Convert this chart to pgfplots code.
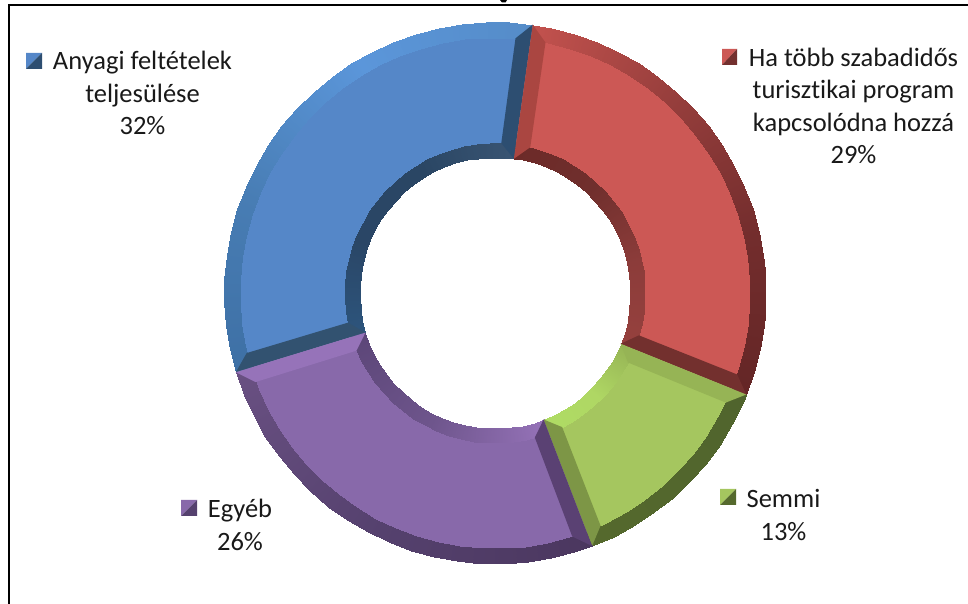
\documentclass[border=0pt]{standalone}
\usepackage{fontspec}
\setmainfont[Ligatures=NoCommon]{Carlito}
\usepackage{pgfplots}
\usepgfplotslibrary{polar}
\pgfplotsset{compat=1.18}
\definecolor{fb}{RGB}{85,135,200}
\definecolor{fr}{RGB}{204,88,85}
\definecolor{fg}{RGB}{165,198,95}
\definecolor{fp}{RGB}{136,105,170}
\definecolor{sb1}{RGB}{45,78,113}
\definecolor{sb2}{RGB}{50,82,112}
\definecolor{sr1}{RGB}{115,48,46}
\definecolor{sr2}{RGB}{170,70,65}
\definecolor{sg1}{RGB}{125,150,70}
\definecolor{sg2}{RGB}{150,180,85}
\definecolor{sp1}{RGB}{150,115,185}
\definecolor{sp2}{RGB}{90,65,115}
\definecolor{kg}{RGB}{85,105,45}
\definecolor{kp}{RGB}{85,65,110}
\pgfplotsset{
 P/.style={data cs=polar,draw=none,fill=#1},
 K/.style={data cs=cart,draw=none,fill=#1},
 S/.style={surf,shader=interp,data cs=polar,point meta=explicit,mesh/cols=#1},
 colormap={bo}{rgb255=(85,140,200) rgb255=(91,150,218) rgb255=(72,125,180) rgb255=(62,112,165)},
 colormap={bi}{rgb255=(58,85,115) rgb255=(42,70,100) rgb255=(42,70,102) rgb255=(45,85,125)},
 colormap={ro}{rgb255=(100,38,38) rgb255=(115,45,45) rgb255=(150,62,60) rgb255=(195,82,78)},
 colormap={ri}{rgb255=(150,65,62) rgb255=(140,60,58) rgb255=(112,47,45) rgb255=(108,42,40)},
 colormap={go}{rgb255=(85,105,45) rgb255=(80,100,45)},
 colormap={gi}{rgb255=(175,220,100) rgb255=(175,215,100) rgb255=(150,180,85)},
 colormap={po}{rgb255=(105,80,130) rgb255=(85,65,110) rgb255=(75,55,95)},
 colormap={pi}{rgb255=(92,70,120) rgb255=(110,85,140) rgb255=(150,115,185)},
}
\begin{document}
\begin{tikzpicture}
\begin{axis}[
 scale only axis,width=968pt,height=604pt,
 xmin=-495,xmax=473,ymin=-311,ymax=293,
 axis lines=none,enlargelimits=false,clip=true,
 point meta rel=per plot,
]
% full extent of the picture
\path (axis cs:-495,-311) rectangle (axis cs:473,293);
% frame and the cut-off title
\addplot[data cs=cart,black,line width=2pt] coordinates {(-486.5,-311) (-486.5,287.5) (473,287.5)};
\addplot[K=black] coordinates {(5,293) (12,293) (10.5,290.5) (7,290.5)};
% faces
\addplot[P=fb] coordinates {(82,263)(92,263)(102,263)(112,263)(122,263)(132,263)(142,263)(152,263)(162,263)(172,263)(182,263)(192,263)(197,263)(197,144)(192,144)(182,144)(172,144)(162,144)(152,144)(142,144)(132,144)(122,144)(112,144)(102,144)(92,144)(82,144)};
\addplot[P=fr] coordinates {(-22,263)(-12,263)(-2,263)(8,263)(18,263)(28,263)(38,263)(48,263)(58,263)(68,263)(78,263)(82,263)(82,144)(78,144)(68,144)(58,144)(48,144)(38,144)(28,144)(18,144)(8,144)(-2,144)(-12,144)(-22,144)};
\addplot[P=fg] coordinates {(-69,263)(-59,263)(-49,263)(-39,263)(-29,263)(-22,263)(-22,144)(-29,144)(-39,144)(-49,144)(-59,144)(-69,144)};
\addplot[P=fp] coordinates {(-163,263)(-153,263)(-143,263)(-133,263)(-123,263)(-113,263)(-103,263)(-93,263)(-83,263)(-73,263)(-69,263)(-69,144)(-73,144)(-83,144)(-93,144)(-103,144)(-113,144)(-123,144)(-133,144)(-143,144)(-153,144)(-163,144)};
% outer strips
\addplot[S=24,colormap name=bo] coordinates {
(82,271)[82](87,271)[87](92,271)[92](97,271)[97](102,271)[102](107,271)[107](112,271)[112](117,271)[117](122,271)[122](127,271)[127](132,271)[132](137,271)[137](142,271)[142](147,271)[147](152,271)[152](157,271)[157](162,271)[162](167,271)[167](172,271)[172](177,271)[177](182,271)[182](187,271)[187](192,271)[192](197,271)[197]
(82,255.5)[82](87,255.5)[87](92,255.5)[92](97,255.5)[97](102,255.5)[102](107,255.5)[107](112,255.5)[112](117,255.5)[117](122,255.5)[122](127,255.5)[127](132,255.5)[132](137,255.5)[137](142,255.5)[142](147,255.5)[147](152,255.5)[152](157,255.5)[157](162,255.5)[162](167,255.5)[167](172,255.5)[172](177,255.5)[177](182,255.5)[182](187,255.5)[187](192,255.5)[192](197,255.5)[197]};
\addplot[S=22,colormap name=ro] coordinates {
(-22,271)[-22](-17,271)[-17](-12,271)[-12](-7,271)[-7](-2,271)[-2](3,271)[3](8,271)[8](13,271)[13](18,271)[18](23,271)[23](28,271)[28](33,271)[33](38,271)[38](43,271)[43](48,271)[48](53,271)[53](58,271)[58](63,271)[63](68,271)[68](73,271)[73](78,271)[78](82,271)[82]
(-22,255.5)[-22](-17,255.5)[-17](-12,255.5)[-12](-7,255.5)[-7](-2,255.5)[-2](3,255.5)[3](8,255.5)[8](13,255.5)[13](18,255.5)[18](23,255.5)[23](28,255.5)[28](33,255.5)[33](38,255.5)[38](43,255.5)[43](48,255.5)[48](53,255.5)[53](58,255.5)[58](63,255.5)[63](68,255.5)[68](73,255.5)[73](78,255.5)[78](82,255.5)[82]};
\addplot[S=11,colormap name=go] coordinates {
(-69,271)[-69](-64,271)[-64](-59,271)[-59](-54,271)[-54](-49,271)[-49](-44,271)[-44](-39,271)[-39](-34,271)[-34](-29,271)[-29](-24,271)[-24](-22,271)[-22]
(-69,255.5)[-69](-64,255.5)[-64](-59,255.5)[-59](-54,255.5)[-54](-49,255.5)[-49](-44,255.5)[-44](-39,255.5)[-39](-34,255.5)[-34](-29,255.5)[-29](-24,255.5)[-24](-22,255.5)[-22]};
\addplot[S=20,colormap name=po] coordinates {
(-163,271)[-163](-158,271)[-158](-153,271)[-153](-148,271)[-148](-143,271)[-143](-138,271)[-138](-133,271)[-133](-128,271)[-128](-123,271)[-123](-118,271)[-118](-113,271)[-113](-108,271)[-108](-103,271)[-103](-98,271)[-98](-93,271)[-93](-88,271)[-88](-83,271)[-83](-78,271)[-78](-73,271)[-73](-69,271)[-69]
(-163,255.5)[-163](-158,255.5)[-158](-153,255.5)[-153](-148,255.5)[-148](-143,255.5)[-143](-138,255.5)[-138](-133,255.5)[-133](-128,255.5)[-128](-123,255.5)[-123](-118,255.5)[-118](-113,255.5)[-113](-108,255.5)[-108](-103,255.5)[-103](-98,255.5)[-98](-93,255.5)[-93](-88,255.5)[-88](-83,255.5)[-83](-78,255.5)[-78](-73,255.5)[-73](-69,255.5)[-69]};
% inner strips
\addplot[S=24,colormap name=bi] coordinates {
(82,150)[82](87,150)[87](92,150)[92](97,150)[97](102,150)[102](107,150)[107](112,150)[112](117,150)[117](122,150)[122](127,150)[127](132,150)[132](137,150)[137](142,150)[142](147,150)[147](152,150)[152](157,150)[157](162,150)[162](167,150)[167](172,150)[172](177,150)[177](182,150)[182](187,150)[187](192,150)[192](197,150)[197]
(82,135.5)[82](87,135.5)[87](92,135.5)[92](97,135.5)[97](102,135.5)[102](107,135.5)[107](112,135.5)[112](117,135.5)[117](122,135.5)[122](127,135.5)[127](132,135.5)[132](137,135.5)[137](142,135.5)[142](147,135.5)[147](152,135.5)[152](157,135.5)[157](162,135.5)[162](167,135.5)[167](172,135.5)[172](177,135.5)[177](182,135.5)[182](187,135.5)[187](192,135.5)[192](197,135.5)[197]};
\addplot[S=22,colormap name=ri] coordinates {
(-22,150)[-22](-17,150)[-17](-12,150)[-12](-7,150)[-7](-2,150)[-2](3,150)[3](8,150)[8](13,150)[13](18,150)[18](23,150)[23](28,150)[28](33,150)[33](38,150)[38](43,150)[43](48,150)[48](53,150)[53](58,150)[58](63,150)[63](68,150)[68](73,150)[73](78,150)[78](82,150)[82]
(-22,135.5)[-22](-17,135.5)[-17](-12,135.5)[-12](-7,135.5)[-7](-2,135.5)[-2](3,135.5)[3](8,135.5)[8](13,135.5)[13](18,135.5)[18](23,135.5)[23](28,135.5)[28](33,135.5)[33](38,135.5)[38](43,135.5)[43](48,135.5)[48](53,135.5)[53](58,135.5)[58](63,135.5)[63](68,135.5)[68](73,135.5)[73](78,135.5)[78](82,135.5)[82]};
\addplot[S=11,colormap name=gi] coordinates {
(-69,150)[-69](-64,150)[-64](-59,150)[-59](-54,150)[-54](-49,150)[-49](-44,150)[-44](-39,150)[-39](-34,150)[-34](-29,150)[-29](-24,150)[-24](-22,150)[-22]
(-69,135.5)[-69](-64,135.5)[-64](-59,135.5)[-59](-54,135.5)[-54](-49,135.5)[-49](-44,135.5)[-44](-39,135.5)[-39](-34,135.5)[-34](-29,135.5)[-29](-24,135.5)[-24](-22,135.5)[-22]};
\addplot[S=20,colormap name=pi] coordinates {
(-163,150)[-163](-158,150)[-158](-153,150)[-153](-148,150)[-148](-143,150)[-143](-138,150)[-138](-133,150)[-133](-128,150)[-128](-123,150)[-123](-118,150)[-118](-113,150)[-113](-108,150)[-108](-103,150)[-103](-98,150)[-98](-93,150)[-93](-88,150)[-88](-83,150)[-83](-78,150)[-78](-73,150)[-73](-69,150)[-69]
(-163,135.5)[-163](-158,135.5)[-158](-153,135.5)[-153](-148,135.5)[-148](-143,135.5)[-143](-138,135.5)[-138](-133,135.5)[-133](-128,135.5)[-128](-123,135.5)[-123](-118,135.5)[-118](-113,135.5)[-113](-108,135.5)[-108](-103,135.5)[-103](-98,135.5)[-98](-93,135.5)[-93](-88,135.5)[-88](-83,135.5)[-83](-78,135.5)[-78](-73,135.5)[-73](-69,135.5)[-69]};
% side bevels
\addplot[P=sb1] coordinates {(82,271)(85.4,255.5)(87.6,150)(82,135.5)};
\addplot[P=sb2] coordinates {(197,271)(193.6,255.5)(191.4,150)(197,135.5)};
\addplot[P=sr1] coordinates {(-22,271)(-18.6,255.5)(-16.4,150)(-22,135.5)};
\addplot[P=sr2] coordinates {(82,271)(78.6,255.5)(76.4,150)(82,135.5)};
\addplot[P=sg1] coordinates {(-69,271)(-65.6,255.5)(-63.4,150)(-69,135.5)};
\addplot[P=sg2] coordinates {(-22,271)(-25.4,255.5)(-27.6,150)(-22,135.5)};
\addplot[P=sp1] coordinates {(-163,271)(-159.6,255.5)(-157.4,150)(-163,135.5)};
\addplot[P=sp2] coordinates {(-69,271)(-72.4,255.5)(-74.6,150)(-69,135.5)};
% legend keys
\addplot[K=fb] coordinates {(-469,240)(-453,240)(-469,224)};
\addplot[K=sb1] coordinates {(-453,240)(-453,224)(-469,224)};
\addplot[K=fr] coordinates {(227,244)(242,244)(227,228)};
\addplot[K=sr1] coordinates {(242,244)(242,228)(227,228)};
\addplot[K=fg] coordinates {(225,-196)(241,-196)(225,-212)};
\addplot[K=kg] coordinates {(241,-196)(241,-212)(225,-212)};
\addplot[K=fp] coordinates {(-314,-207)(-298,-207)(-314,-223)};
\addplot[K=kp] coordinates {(-298,-207)(-298,-223)(-314,-223)};
% labels
\tikzset{L/.style={font=\fontsize{26.5}{32.3}\selectfont,align=center,inner sep=0pt,text=black!90}}
\node[L] at (axis cs:-352.5,200) {Anyagi feltételek\\teljesülése\\32\%};
\node[L] at (axis cs:358.5,187) {Ha több szabadidős\\turisztikai program\\kapcsolódna hozzá\\29\%};
\node[L] at (axis cs:288.5,-222) {Semmi\\13\%};
\node[L] at (axis cs:-255,-232) {Egyéb\\26\%};
\end{axis}
\end{tikzpicture}
\end{document}
